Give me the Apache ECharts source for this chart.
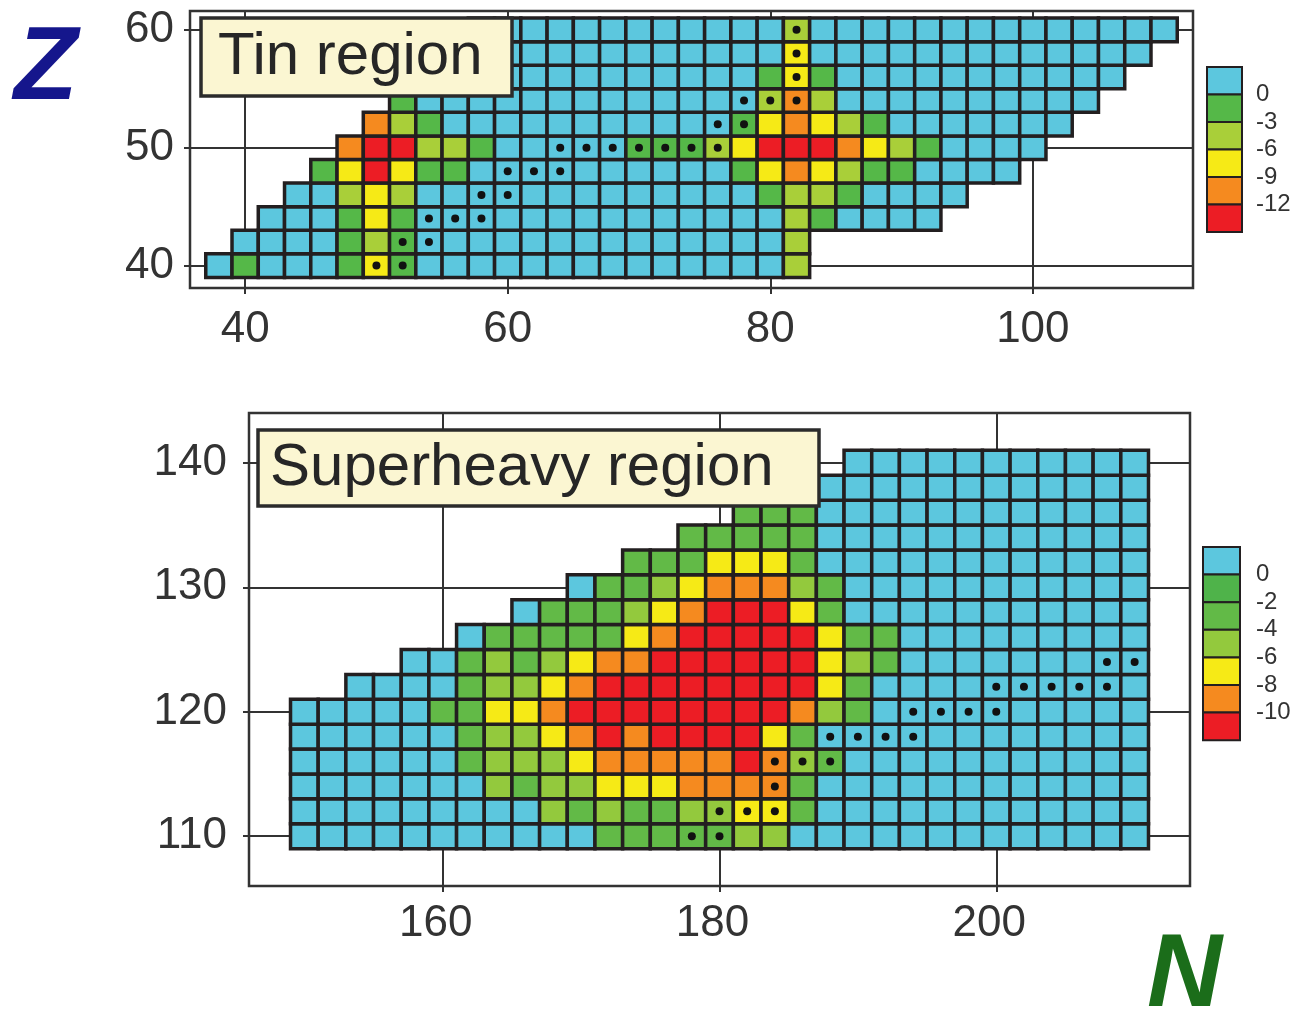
<!DOCTYPE html>
<html><head><meta charset="utf-8">
<script src="https://cdn.jsdelivr.net/npm/echarts@6/dist/echarts.min.js"></script>
<style>html,body{margin:0;padding:0;background:#fff}#c{width:1297px;height:1016px}</style>
</head><body><div id="c"></div><script>
// ---------------- DATA ----------------
// Tin region: rows of even Z, first even N of each row, one code per cell (step 2 in N)
const tinZ      = [40, 42, 44, 46, 48, 50, 52, 54, 56, 58, 60];
const tinStartN = [38, 40, 42, 44, 46, 48, 50, 52, 54, 56, 58];
const tinRows = [
  'CGCCCGYGCCCCCCCCCCCCCCL',
  'CCCCGLGCCCCCCCCCCCCCCL',
  'CCCGYGCCCCCCCCCCCCCCLGCCCC',
  'CCLYLCCCCCCCCCCCCCGLLGCCCC',
  'GYRYGGCCCCCCCCCCGYOYLGGCCCC',
  'ORRLLGCCCCCGGGLYRRROYLGCCCC',
  'OLGCCCCCCCCCCCGYOYLGCCCCCCC',
  'GCCCCCCCCCCCCCLOLCCCCCCCCCC',
  'CCCCCCCCCCCCCGYGCCCCCCCCCCC',
  'CCCCCCCCCCCCCYCCCCCCCCCCCCC',
  'CCCCCCCCCCCCLCCCCCCCCCCCCCC'
];
// energy (MeV) represented by each colour class
const tinCodeValue = { C: 1.5, G: -1.5, L: -4.5, Y: -7.5, O: -10.5, R: -13.5 };
const tinMagic = [[50,40],[52,40],[52,42],[54,42],[54,44],[56,44],[58,44],[58,46],[60,46],
  [60,48],[62,48],[64,48],[64,50],[66,50],[68,50],[70,50],[72,50],[74,50],[76,50],
  [76,52],[78,52],[78,54],[80,54],[82,54],[82,56],[82,58],[82,60]];
const tinTicksN = [40, 60, 80, 100];
const tinTicksZ = [40, 50, 60];
const tinLegendLabels = ['0', '-3', '-6', '-9', '-12'];

// Superheavy region
const shZ      = [110, 112, 114, 116, 118, 120, 122, 124, 126, 128, 130, 132, 134, 136, 138, 140];
const shStartN = [150, 150, 150, 150, 150, 150, 154, 158, 162, 166, 170, 174, 178, 182, 186, 190];
const shRows = [
  'CCCCCCCCCCCGGGGGLLCCCCCCCCCCCCC',
  'CCCCCCCCCLGLGGLLYYGCCCCCCCCCCCC',
  'CCCCCCCLGLLYYYOOOOGCCCCCCCCCCCC',
  'CCCCCCGLLLYOOOOOROLGCCCCCCCCCCC',
  'CCCCCCGLLYORORRRRYGCCCCCCCCCCCC',
  'CCCCCGGYYORRRRRRRROLGCCCCCCCCCC',
  'CCCCGLLYORRRRRRRRYGCCCCCCCCCC',
  'CCGLGLYOORRRRRRYLGCCCCCCCCC',
  'CGGGGGYORRRRRYGGCCCCCCCCC',
  'CGGGLYORRRYGCCCCCCCCCCC',
  'CGGLYOOOLGCCCCCCCCCCC',
  'GGGYYYGCCCCCCCCCCCC',
  'GGGGGCCCCCCCCCCCC',
  'GGGCCCCCCCCCCCC',
  'GCCCCCCCCCCCC',
  'CCCCCCCCCCC'
];
const shCodeValue = { C: 1, D: -1, G: -3, L: -5, Y: -7, O: -9, R: -11 };
const shMagic = [[178,110],[180,110],[180,112],[182,112],[184,112],[184,114],[184,116],[186,116],[188,116],
  [188,118],[190,118],[192,118],[194,118],[194,120],[196,120],[198,120],[200,120],
  [200,122],[202,122],[204,122],[206,122],[208,122],[208,124],[210,124]];
const shTicksN = [160, 180, 200];
const shTicksZ = [110, 120, 130, 140];
const shLegendLabels = ['0', '-2', '-4', '-6', '-8', '-10'];

// ---------------- STYLE ----------------
const CYAN = '#5cc7de', GREEN = '#55b848', YG = '#a9cf39', YELLOW = '#f6ea16', ORANGE = '#f58a1f', RED = '#ec1d25';
const SH_D = '#4fb34a', SH_G = '#62ba47', SH_L = '#93c93d';
const tinColors = [CYAN, GREEN, YG, YELLOW, ORANGE, RED];
const shColors = [CYAN, SH_D, SH_G, SH_L, YELLOW, ORANGE, RED];
const EDGE = '#231f20';

function buildCells(zs, starts, rows, codeVal) {
  const out = [];
  zs.forEach((z, i) => {
    const s = rows[i];
    for (let k = 0; k < s.length; k++) out.push([starts[i] + 2 * k, z, codeVal[s[k]]]);
  });
  return out;
}
const tinCells = buildCells(tinZ, tinStartN, tinRows, tinCodeValue);
const shCells = buildCells(shZ, shStartN, shRows, shCodeValue);

function cellRender(lw) {
  return function (params, api) {
    const n = api.value(0), z = api.value(1);
    const p0 = api.coord([n - 1, z + 1]);
    const p1 = api.coord([n + 1, z - 1]);
    return {
      type: 'rect',
      shape: { x: p0[0], y: p0[1], width: p1[0] - p0[0], height: p1[1] - p0[1] },
      style: { fill: api.visual('color'), stroke: EDGE, lineWidth: lw }
    };
  };
}

const FONT = 'Liberation Sans, Arial, sans-serif';
function axisCommon(ticks, labelSize, margin, padding) {
  return {
    type: 'value',
    splitLine: { show: false },
    axisLine: { show: false },
    axisTick: { show: true, customValues: ticks, length: 6, inside: false, lineStyle: { color: '#333', width: 2 } },
    axisLabel: { customValues: ticks, fontSize: labelSize, color: '#333', margin: margin, fontFamily: FONT,
      padding: padding || 0 }
  };
}
function gridLines(xi, ticksX, ticksY) {
  return {
    type: 'scatter', xAxisIndex: xi, yAxisIndex: xi, data: [], z: 1, silent: true,
    markLine: {
      z: 1, silent: true, symbol: 'none', animation: false, label: { show: false },
      lineStyle: { color: '#333', width: 2, type: 'solid' },
      emphasis: { disabled: true },
      data: ticksX.map(v => ({ xAxis: v })).concat(ticksY.map(v => ({ yAxis: v })))
    }
  };
}

// legends (graphic)
function legendGraphic(x, y, w, h, colors, labels, lx) {
  const els = [];
  colors.forEach((c, i) => {
    els.push({ type: 'rect', shape: { x: x, y: y + i * h, width: w, height: h },
      style: { fill: c, stroke: EDGE, lineWidth: 2 }, z: 10 });
  });
  labels.forEach((t, i) => {
    els.push({ type: 'text', x: lx, y: y + (i + 1) * h, z: 10,
      style: { text: t, fill: '#333', font: '24px ' + FONT, textVerticalAlign: 'middle', textAlign: 'left' } });
  });
  return els;
}

const chart = echarts.init(document.getElementById('c'), null, { renderer: 'canvas' });
const option = {
  animation: false,
  backgroundColor: '#fff',
  grid: [
    { left: 190, top: 11, width: 1003, height: 277, show: true, borderColor: '#333', borderWidth: 2.5, backgroundColor: '#fff' },
    { left: 249, top: 413, width: 941, height: 473, show: true, borderColor: '#333', borderWidth: 2.5, backgroundColor: '#fff' }
  ],
  xAxis: [
    Object.assign(axisCommon(tinTicksN, 44, 20), { gridIndex: 0, min: 35.8, max: 112.2 }),
    Object.assign(axisCommon(shTicksN, 44, 16, [0, 14, 0, 0]), { gridIndex: 1, min: 146, max: 214 })
  ],
  yAxis: [
    Object.assign(axisCommon(tinTicksZ, 44, 16), { gridIndex: 0, min: 38.1, max: 61.6 }),
    Object.assign(axisCommon(shTicksZ, 44, 22), { gridIndex: 1, min: 106, max: 144 })
  ],
  visualMap: [
    { type: 'piecewise', show: false, seriesIndex: 1, dimension: 2,
      pieces: [
        { gt: 0, color: CYAN }, { gt: -3, lte: 0, color: GREEN }, { gt: -6, lte: -3, color: YG },
        { gt: -9, lte: -6, color: YELLOW }, { gt: -12, lte: -9, color: ORANGE }, { lte: -12, color: RED }
      ] },
    { type: 'piecewise', show: false, seriesIndex: 4, dimension: 2,
      pieces: [
        { gt: 0, color: CYAN }, { gt: -2, lte: 0, color: SH_D }, { gt: -4, lte: -2, color: SH_G },
        { gt: -6, lte: -4, color: SH_L }, { gt: -8, lte: -6, color: YELLOW }, { gt: -10, lte: -8, color: ORANGE },
        { lte: -10, color: RED }
      ] }
  ],
  series: [
    gridLines(0, tinTicksN, tinTicksZ),
    { type: 'custom', xAxisIndex: 0, yAxisIndex: 0, z: 2, data: tinCells, renderItem: cellRender(3.5), silent: true },
    { type: 'scatter', xAxisIndex: 0, yAxisIndex: 0, z: 3, data: tinMagic, symbol: 'circle', symbolSize: 8,
      itemStyle: { color: '#111', opacity: 1 }, silent: true },
    gridLines(1, shTicksN, shTicksZ),
    { type: 'custom', xAxisIndex: 1, yAxisIndex: 1, z: 2, data: shCells, renderItem: cellRender(3.5), silent: true },
    { type: 'scatter', xAxisIndex: 1, yAxisIndex: 1, z: 3, data: shMagic, symbol: 'circle', symbolSize: 8,
      itemStyle: { color: '#111', opacity: 1 }, silent: true }
  ],
  graphic: [
    { type: 'rect', shape: { x: 201, y: 18, width: 311, height: 78 }, z: 20,
      style: { fill: '#fbf6d2', stroke: '#2b2b2b', lineWidth: 3.5 } },
    { type: 'text', x: 218, y: 57, z: 21,
      style: { text: 'Tin region', fill: '#262626', font: '60px ' + FONT, textVerticalAlign: 'middle' } },
    { type: 'rect', shape: { x: 258, y: 430, width: 561, height: 76 }, z: 20,
      style: { fill: '#fbf6d2', stroke: '#2b2b2b', lineWidth: 3.5 } },
    { type: 'text', x: 270, y: 468, z: 21,
      style: { text: 'Superheavy region', fill: '#262626', font: '60px ' + FONT, textVerticalAlign: 'middle' } },
    { type: 'text', x: 14, y: 70, z: 21,
      style: { text: 'Z', fill: '#15168c', font: 'italic bold 104px ' + FONT, textVerticalAlign: 'middle' } },
    { type: 'text', x: 1147, y: 977, z: 21,
      style: { text: 'N', fill: '#1b6d1a', font: 'italic bold 104px ' + FONT, textVerticalAlign: 'middle' } }
  ].concat(legendGraphic(1207, 67, 35, 27.5, tinColors, tinLegendLabels, 1256))
   .concat(legendGraphic(1203, 547, 37, 27.6, shColors, shLegendLabels, 1256))
};
chart.setOption(option);
</script></body></html>
